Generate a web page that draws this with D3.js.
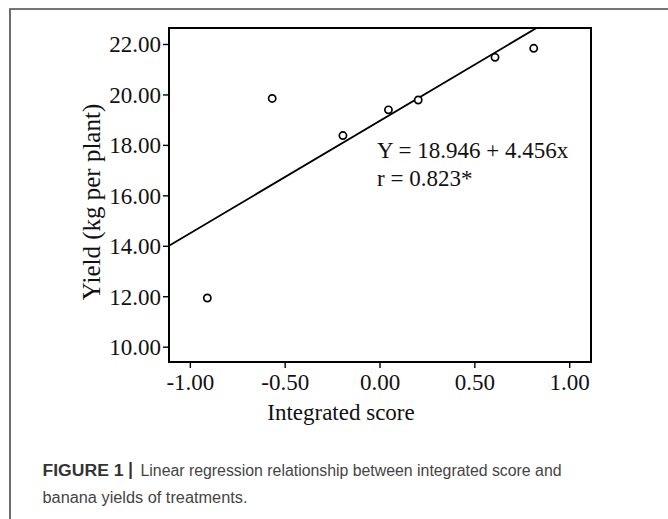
<!DOCTYPE html>
<html>
<head>
<meta charset="utf-8">
<script src="https://cdn.jsdelivr.net/npm/d3@7"></script>
<style>
  html, body { margin: 0; padding: 0; background: #fff; }
  svg { display: block; }
</style>
</head>
<body>
<svg id="chart" width="668" height="519"></svg>
<script>
// ---- data ----
const scoreX = [-0.908, -0.566, -0.193, 0.047, 0.204, 0.609, 0.813];
const yieldY = [11.93, 19.84, 18.37, 19.39, 19.78, 21.47, 21.83];
const xTicks = [-1.0, -0.5, 0.0, 0.5, 1.0];
const yTicks = [10, 12, 14, 16, 18, 20, 22];
const intercept = 18.946;
const slope = 4.456;
const eqLines = ["Y = 18.946 + 4.456x", "r = 0.823*"];
const xTitle = "Integrated score";
const yTitle = "Yield (kg per plant)";
const captionBold = "FIGURE 1";
const captionLine1 = "Linear regression relationship between integrated score and";
const captionLine2 = "banana yields of treatments.";

// ---- layout ----
const svg = d3.select("#chart");
const L = 169, R = 591, T = 28, B = 362;
const x = d3.scaleLinear().domain([-1.11, 1.115]).range([L, R]);
const y = d3.scaleLinear().domain([9.393, 22.634]).range([B, T]);
const serif = "'Liberation Serif', 'Times New Roman', serif";
const fmt = d => d.toFixed(2);

// outer figure frame
svg.append("path")
  .attr("d", "M10,519 L10,9 L668,9")
  .attr("fill", "none").attr("stroke", "#4a4a4a").attr("stroke-width", 1.6);

// clip
svg.append("clipPath").attr("id", "plotclip")
  .append("rect").attr("x", L).attr("y", T).attr("width", R - L).attr("height", B - T);

// axes
const yAxis = d3.axisLeft(y).tickValues(yTicks).tickSize(6).tickPadding(2).tickFormat(fmt);
const gy = svg.append("g").attr("transform", `translate(${L},0)`).call(yAxis);
gy.select(".domain").remove();
gy.selectAll("line").attr("stroke", "#000").attr("stroke-width", 1.4);
gy.selectAll("text").attr("font-family", serif).attr("font-size", 23)
  .attr("fill", "#111").attr("dy", "0.34em");

const xAxis = d3.axisBottom(x).tickValues(xTicks).tickSize(6).tickPadding(4).tickFormat(fmt);
const gx = svg.append("g").attr("transform", `translate(0,${B})`).call(xAxis);
gx.select(".domain").remove();
gx.selectAll("line").attr("stroke", "#000").attr("stroke-width", 1.4);
gx.selectAll("text").attr("font-family", serif).attr("font-size", 23)
  .attr("fill", "#111").attr("dy", "0.78em");

// plot frame
svg.append("rect").attr("x", L).attr("y", T).attr("width", R - L).attr("height", B - T)
  .attr("fill", "none").attr("stroke", "#000").attr("stroke-width", 2);

// regression line
const x0 = x.domain()[0], x1 = x.domain()[1];
svg.append("line")
  .attr("clip-path", "url(#plotclip)")
  .attr("x1", x(x0)).attr("y1", y(intercept + slope * x0))
  .attr("x2", x(x1)).attr("y2", y(intercept + slope * x1))
  .attr("stroke", "#000").attr("stroke-width", 1.8);

// points
svg.append("g").selectAll("circle")
  .data(scoreX.map((v, i) => [v, yieldY[i]]))
  .join("circle")
  .attr("cx", d => x(d[0])).attr("cy", d => y(d[1])).attr("r", 3.6)
  .attr("fill", "#fff").attr("stroke", "#000").attr("stroke-width", 1.7);

// equation text
svg.append("g").selectAll("text").data(eqLines).join("text")
  .attr("x", 377).attr("y", (d, i) => 158 + i * 28)
  .attr("font-family", serif).attr("font-size", 23).attr("fill", "#111")
  .text(d => d);

// axis titles
svg.append("text").attr("x", 341).attr("y", 420)
  .attr("text-anchor", "middle").attr("font-family", serif).attr("font-size", 23)
  .attr("fill", "#111").text(xTitle);
svg.append("text").attr("transform", "translate(100,202) rotate(-90)")
  .attr("text-anchor", "middle").attr("font-family", serif).attr("font-size", 25)
  .attr("fill", "#111").text(yTitle);

// caption
const sans = "'Liberation Sans', Arial, sans-serif";
svg.append("text").attr("x", 42.5).attr("y", 476)
  .attr("font-family", sans).attr("font-size", 16).attr("font-weight", "bold")
  .attr("fill", "#333").attr("textLength", 81).attr("lengthAdjust", "spacingAndGlyphs")
  .text(captionBold);
svg.append("rect").attr("x", 129.5).attr("y", 462).attr("width", 2.2).attr("height", 17)
  .attr("fill", "#333");
svg.append("text").attr("x", 140.5).attr("y", 476)
  .attr("font-family", sans).attr("font-size", 16)
  .attr("fill", "#444").attr("textLength", 421).attr("lengthAdjust", "spacingAndGlyphs")
  .text(captionLine1);
svg.append("text").attr("x", 42.5).attr("y", 503)
  .attr("font-family", sans).attr("font-size", 16)
  .attr("fill", "#444").attr("textLength", 205).attr("lengthAdjust", "spacingAndGlyphs")
  .text(captionLine2);
</script>
</body>
</html>
